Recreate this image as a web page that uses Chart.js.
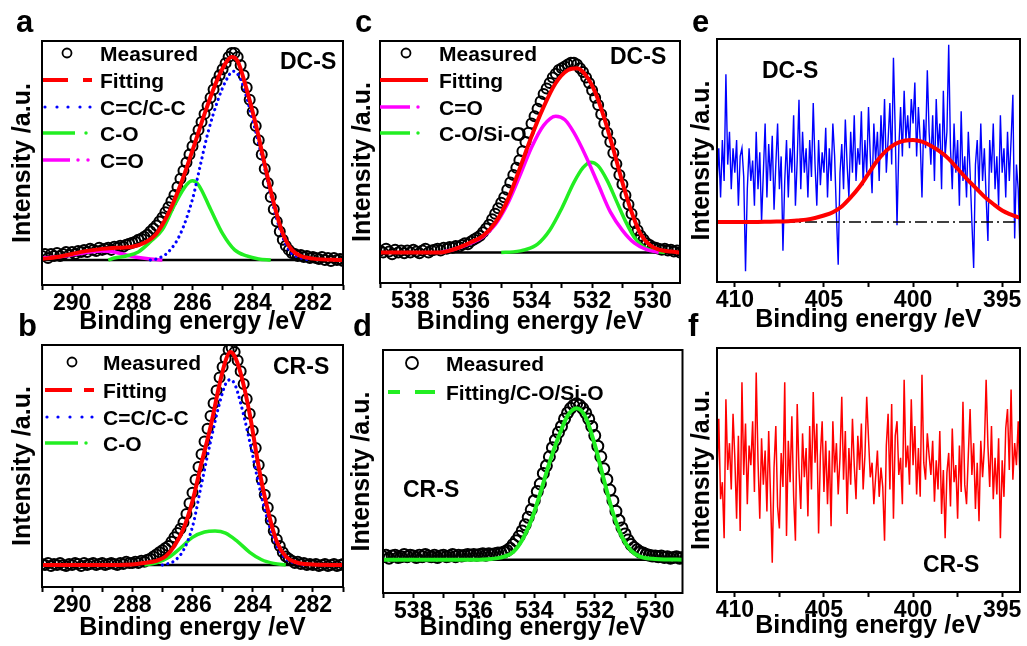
<!DOCTYPE html>
<html>
<head>
<meta charset="utf-8">
<title>XPS C 1s / O 1s / N 1s</title>
<script src="https://cdn.jsdelivr.net/npm/chart.js@4.4.1/dist/chart.umd.min.js"></script>
<style>
  html, body { margin: 0; padding: 0; background: #fff; }
  body { width: 1027px; height: 646px; position: relative; overflow: hidden; font-family: "Liberation Sans", Arial, sans-serif; }
  canvas { position: absolute; }
  .tag { position: absolute; font-weight: bold; line-height: 1; color: #000; white-space: nowrap; z-index: 2; }
  .letter { font-size: 31px; }
  .sample { font-size: 23px; }
</style>
</head>
<body>
<canvas id="chartA" width="350" height="338" style="left:0;top:0"></canvas>
<canvas id="chartB" width="350" height="310" style="left:0;top:336px"></canvas>
<canvas id="chartC" width="347" height="338" style="left:340px;top:0"></canvas>
<canvas id="chartD" width="350" height="310" style="left:340px;top:336px"></canvas>
<canvas id="chartE" width="347" height="338" style="left:680px;top:0"></canvas>
<canvas id="chartF" width="347" height="310" style="left:680px;top:336px"></canvas>

<div class="tag letter" style="left:16px;top:6px">a</div>
<div class="tag letter" style="left:18px;top:310px">b</div>
<div class="tag letter" style="left:355px;top:6px">c</div>
<div class="tag letter" style="left:353px;top:310px">d</div>
<div class="tag letter" style="left:692px;top:6px">e</div>
<div class="tag letter" style="left:688px;top:310px">f</div>
<div class="tag sample" style="left:280px;top:50px">DC-S</div>
<div class="tag sample" style="left:273px;top:355px">CR-S</div>
<div class="tag sample" style="left:610px;top:45px">DC-S</div>
<div class="tag sample" style="left:403px;top:478px">CR-S</div>
<div class="tag sample" style="left:762px;top:59px">DC-S</div>
<div class="tag sample" style="left:923px;top:553px">CR-S</div>

<script>
// ---- data (intensities normalised, baseline = 0) ----
// measured spectra: 0.1 eV step, from high to low binding energy
const measStep = 0.1;

// a: C 1s, DC-S
const aMeasStart = 291.0;
const aMeasured = [
  0.02, 0.03, 0.01, 0.03, 0.02, 0.035, 0.02, 0.03, 0.04, 0.025,
  0.04, 0.03, 0.045, 0.04, 0.05, 0.04, 0.055, 0.05, 0.045, 0.06,
  0.05, 0.055, 0.06, 0.05, 0.065, 0.06, 0.07, 0.065, 0.075, 0.08,
  0.085, 0.09, 0.1, 0.105, 0.115, 0.125, 0.14, 0.155, 0.17, 0.19,
  0.21, 0.235, 0.26, 0.29, 0.32, 0.36, 0.40, 0.44, 0.48, 0.52,
  0.56, 0.60, 0.64, 0.68, 0.72, 0.76, 0.80, 0.84, 0.88, 0.91,
  0.94, 0.97, 1.0, 1.02, 1.02, 1.0, 0.96, 0.91, 0.85, 0.79,
  0.73, 0.66, 0.59, 0.52, 0.45, 0.38, 0.31, 0.25, 0.19, 0.14,
  0.10, 0.07, 0.05, 0.035, 0.03, 0.02, 0.025, 0.015, 0.02, 0.01,
  0.015, 0.01, 0.005, 0.015, 0.0, 0.01, -0.005, 0.01, 0.0, 0.005, -0.005
];
const aFitE = [291, 290.5, 290, 289.5, 289, 288.5, 288, 287.6, 287.2, 286.8, 286.4, 286.0, 285.6, 285.2, 284.9, 284.7, 284.5, 284.2, 283.9, 283.6, 283.3, 283.0, 282.7, 282.4, 282.0, 281.0];
const aFit = [0.005, 0.015, 0.03, 0.045, 0.055, 0.06, 0.065, 0.085, 0.13, 0.23, 0.37, 0.54, 0.72, 0.88, 0.97, 1.0, 0.98, 0.84, 0.67, 0.47, 0.28, 0.13, 0.05, 0.02, 0.007, 0];
const aCCE = [287.4, 287.2, 286.8, 286.4, 286.0, 285.75, 285.5, 285.15, 284.9, 284.65, 284.4, 284.0, 283.6, 283.2, 282.8, 282.4, 282.1];
const aCC = [0, 0.005, 0.04, 0.13, 0.3, 0.46, 0.62, 0.79, 0.88, 0.93, 0.89, 0.69, 0.45, 0.2, 0.05, 0.01, 0];
const aCOE = [288.8, 288.6, 288.2, 287.8, 287.4, 287.0, 286.6, 286.2, 286.0, 285.8, 285.4, 285.0, 284.6, 284.2, 283.8, 283.4];
const aCO = [0.0, 0.01, 0.02, 0.04, 0.09, 0.15, 0.27, 0.37, 0.39, 0.37, 0.25, 0.13, 0.05, 0.02, 0.005, 0];
const aCdOE = [291, 290.2, 289.6, 289.0, 288.6, 288.2, 287.8, 287.4, 287.0];
const aCdO = [0.01, 0.02, 0.035, 0.045, 0.04, 0.025, 0.012, 0.005, 0];

// b: C 1s, CR-S
const bMeasStart = 291.0;
const bMeasured = [
  0.005, 0.0, 0.01, -0.005, 0.005, 0.0, 0.01, 0.0, -0.005, 0.005,
  0.0, 0.01, 0.005, -0.005, 0.01, 0.0, 0.005, 0.01, 0.0, 0.005,
  0.01, 0.0, 0.005, 0.01, 0.005, 0.0, 0.01, 0.005, 0.015, 0.01,
  0.01, 0.015, 0.01, 0.02, 0.015, 0.025, 0.03, 0.04, 0.05, 0.06,
  0.07, 0.08, 0.09, 0.11, 0.13, 0.15, 0.17, 0.2, 0.24, 0.29,
  0.34, 0.40, 0.46, 0.52, 0.58, 0.64, 0.70, 0.76, 0.82, 0.88,
  0.93, 0.97, 1.01, 1.02, 1.0, 0.96, 0.91, 0.85, 0.78, 0.71,
  0.63, 0.55, 0.47, 0.40, 0.33, 0.27, 0.21, 0.16, 0.12, 0.09,
  0.06, 0.04, 0.03, 0.02, 0.01, 0.015, 0.005, 0.01, 0.0, 0.005,
  0.0, 0.005, -0.005, 0.0, 0.005, -0.005, 0.0, 0.005, -0.005, 0.0, 0.005
];
const bFitE = [291, 289, 288, 287.6, 287.2, 286.9, 286.6, 286.3, 286.0, 285.7, 285.4, 285.1, 284.9, 284.75, 284.6, 284.4, 284.1, 283.8, 283.5, 283.2, 282.9, 282.6, 282.3, 281];
const bFit = [0, 0, 0.003, 0.01, 0.02, 0.04, 0.09, 0.17, 0.30, 0.48, 0.65, 0.85, 0.96, 1.0, 0.98, 0.9, 0.71, 0.46, 0.26, 0.11, 0.04, 0.015, 0.005, 0];
const bCCE = [287.0, 286.6, 286.3, 286.0, 285.7, 285.4, 285.1, 284.9, 284.75, 284.6, 284.4, 284.1, 283.8, 283.5, 283.2, 282.9, 282.6, 282.3];
const bCC = [0, 0.02, 0.07, 0.18, 0.38, 0.58, 0.76, 0.85, 0.87, 0.85, 0.76, 0.58, 0.38, 0.21, 0.09, 0.03, 0.01, 0];
const bCOE = [287.6, 287.2, 286.8, 286.4, 286.0, 285.6, 285.25, 284.9, 284.5, 284.1, 283.7, 283.3, 282.9];
const bCO = [0, 0.01, 0.035, 0.08, 0.13, 0.155, 0.16, 0.15, 0.11, 0.06, 0.025, 0.008, 0];

// c: O 1s, DC-S
const cMeasStart = 539.0;
const cMeasured = [
  0.01, 0.0, 0.02, 0.005, -0.01, 0.015, 0.0, 0.01, -0.005, 0.01,
  0.0, 0.015, 0.005, -0.005, 0.01, 0.02, 0.0, 0.01, 0.015, 0.02,
  0.01, 0.025, 0.02, 0.03, 0.025, 0.035, 0.03, 0.04, 0.05, 0.045,
  0.06, 0.07, 0.08, 0.09, 0.11, 0.13, 0.15, 0.18, 0.21, 0.24,
  0.27, 0.30, 0.34, 0.38, 0.42, 0.46, 0.50, 0.55, 0.60, 0.65,
  0.70, 0.74, 0.78, 0.82, 0.86, 0.89, 0.92, 0.95, 0.97, 0.99,
  1.0, 1.01, 1.02, 1.03, 1.03, 1.02, 1.0, 0.98, 0.95, 0.92,
  0.88, 0.84, 0.80, 0.75, 0.70, 0.65, 0.60, 0.54, 0.48, 0.42,
  0.37, 0.31, 0.26, 0.21, 0.16, 0.12, 0.09, 0.07, 0.05, 0.04,
  0.03, 0.025, 0.02, 0.015, 0.02, 0.01, 0.015, 0.005, 0.01, 0.0, 0.005
];
const cFitE = [539, 537, 536.5, 536.0, 535.6, 535.2, 534.8, 534.4, 534.0, 533.6, 533.2, 532.8, 532.5, 532.2, 531.9, 531.6, 531.3, 531.0, 530.7, 530.4, 530.1, 529.8, 529.4, 529.1];
const cFit = [0, 0, 0.02, 0.055, 0.09, 0.16, 0.28, 0.45, 0.63, 0.79, 0.92, 0.99, 1.0, 0.96, 0.87, 0.73, 0.56, 0.38, 0.22, 0.1, 0.04, 0.015, 0.005, 0];
const cCdOE = [537, 536.5, 536.0, 535.6, 535.2, 534.8, 534.4, 534.0, 533.6, 533.2, 532.9, 532.6, 532.2, 531.8, 531.4, 531.0, 530.6, 530.2, 529.8];
const cCdO = [0, 0.02, 0.05, 0.085, 0.15, 0.26, 0.41, 0.57, 0.69, 0.74, 0.72, 0.65, 0.52, 0.37, 0.22, 0.12, 0.05, 0.015, 0];
const cCOE = [535.0, 534.6, 534.2, 533.8, 533.4, 533.0, 532.6, 532.3, 532.05, 531.8, 531.5, 531.2, 530.9, 530.6, 530.3, 530.0, 529.6];
const cCO = [0, 0.003, 0.015, 0.045, 0.12, 0.24, 0.38, 0.46, 0.49, 0.47, 0.39, 0.28, 0.17, 0.08, 0.03, 0.01, 0];

// d: O 1s, CR-S
const dMeasStart = 539.0;
const dMeasured = [
  0.02, 0.03, 0.01, 0.025, 0.03, 0.015, 0.02, 0.035, 0.02, 0.03,
  0.025, 0.015, 0.03, 0.02, 0.035, 0.025, 0.02, 0.03, 0.015, 0.025,
  0.03, 0.02, 0.025, 0.035, 0.02, 0.03, 0.025, 0.03, 0.035, 0.03,
  0.035, 0.03, 0.035, 0.04, 0.03, 0.04, 0.035, 0.04, 0.045, 0.045,
  0.05, 0.06, 0.075, 0.10, 0.125, 0.155, 0.19, 0.23, 0.28, 0.33,
  0.39, 0.45, 0.50, 0.57, 0.62, 0.68, 0.74, 0.79, 0.84, 0.88,
  0.93, 0.97, 1.0, 1.02, 1.03, 1.02, 1.0, 0.97, 0.93, 0.88,
  0.82, 0.75, 0.68, 0.60, 0.53, 0.46, 0.39, 0.32, 0.26, 0.21,
  0.17, 0.13, 0.10, 0.08, 0.065, 0.05, 0.045, 0.035, 0.03, 0.025,
  0.025, 0.02, 0.025, 0.015, 0.02, 0.01, 0.015, 0.02, 0.01, 0.015, 0.005
];
const dFitE = [539, 536, 535.4, 535.0, 534.7, 534.4, 534.1, 533.8, 533.5, 533.2, 532.9, 532.6, 532.3, 532.0, 531.7, 531.4, 531.1, 530.8, 530.5, 530.0, 529];
const dFit = [0, 0, 0.005, 0.02, 0.05, 0.13, 0.26, 0.44, 0.64, 0.81, 0.95, 1.0, 0.94, 0.76, 0.53, 0.31, 0.15, 0.06, 0.02, 0.005, 0];

// e: N 1s, DC-S
const eMeasStart = 411.0;
const eMeasured = [
  0.45, 0.9, 0.3, 1.0, 0.5, 1.8, 0.7, 1.1, 0.4, 0.9,
  0.6, 1.0, 0.2, 0.8, 0.9, 0.55, -0.6, 0.4, 0.9, 0.5,
  0.75, 0.2, 1.1, 0.4, 0.85, 0.0, 0.6, 1.2, 0.3, 0.95,
  0.5, 1.05, 0.15, 0.7, 1.2, 0.4, 0.8, -0.35, 0.5, 1.0,
  0.3, 0.9, 0.6, 1.3, 0.2, 0.75, 1.49, 0.4, 1.1, 0.6,
  0.9, 0.3, 1.0, 0.55, 1.45, 0.7, 0.2, 1.0, 0.45, 0.85,
  0.6, 1.15, 0.3, 0.9, 0.5, 1.2, 0.8, 0.1, -0.52, 0.6,
  0.95, 0.4, 1.25, 0.7, 0.3, 1.1, 0.6, 1.3, 0.5, 0.9,
  0.7, 1.35, 0.45, 1.0, 0.6, 1.4, 0.8, 0.35, 1.2, 0.75,
  1.1, 0.5, 1.3, 0.8, 1.5, 0.6, 1.0, 1.45, 0.7, 2.0,
  1.1, -0.04, 0.9, 1.4, 0.8, 1.6, 1.0, 1.3, 0.9, 1.5,
  1.2, 1.7, 0.8, 1.4, 1.0, 0.3, 1.25, 0.9, 1.85, 1.1,
  0.7, 1.3, 0.5, 1.5, 0.9, 1.2, 0.4, 1.6, 0.8, 1.1,
  2.16, 0.9, 0.4, 1.2, 0.6, 1.0, 0.2, 1.35, 0.5, 0.8,
  0.3, 1.1, 0.6, 0.0, -0.56, 0.7, 1.0, 0.4, 1.2, 0.5,
  0.9, 0.3, -0.23, 1.0, 0.6, 1.2, 0.4, 0.8, 0.2, 1.3,
  0.6, 0.9, 0.3, 1.1, 0.5, 1.0, 1.55, -0.2, 0.7, 0.4,
  -0.35
];
const eFitE = [411, 409, 408, 407, 406.5, 406, 405.5, 405, 404.5, 404, 403.5, 403, 402.5, 402, 401.5, 401, 400.5, 400, 399.5, 399, 398.5, 398, 397.5, 397, 396.5, 396, 395.5, 395, 394.5, 394];
const eFit = [0, 0, 0.005, 0.01, 0.02, 0.03, 0.05, 0.08, 0.12, 0.19, 0.3, 0.43, 0.59, 0.75, 0.87, 0.95, 0.99, 1.0, 0.98, 0.93, 0.86, 0.77, 0.65, 0.53, 0.42, 0.31, 0.22, 0.14, 0.09, 0.05];

// f: N 1s, CR-S
const fMeasStart = 411.0;
const fMeasured = [
  4.6, 7.1, 3.8, 4.5, 2.2, 7.9, 5.0, 6.1, 4.2, 7.3,
  5.5, 3.0, 6.4, 2.5, 8.6, 4.8, 6.9, 3.6, 6.0, 5.2,
  7.0, 4.1, 9.0, 5.4, 3.0, 6.3, 4.4, 5.8, 3.3, 6.6,
  4.0, 1.2, 5.1, 6.8, 3.5, 2.6, 5.7, 4.3, 8.6, 2.3,
  6.2, 4.5, 7.2, 3.9, 2.1, 7.7, 5.0, 3.4, 6.5, 4.7,
  5.9, 3.1, 6.8, 4.2, 8.2, 5.3, 6.9, 2.4, 5.6, 7.0,
  4.1, 6.2, 3.6, 5.8, 2.7, 7.0, 4.9, 6.1, 4.0, 5.5,
  8.0, 4.6, 6.6, 3.2, 5.9, 4.4, 7.1, 5.2, 3.8, 6.4,
  5.0, 6.9, 4.2, 5.6, 8.0, 6.3, 4.7, 5.3, 3.6, 4.7,
  5.8, 3.9, 5.1, 4.3, 2.1, 6.0, 7.3, 4.2, 7.7, 3.0,
  6.4, 7.0, 4.8, 5.5, 3.6, 8.7, 5.1, 6.0, 4.4, 7.9,
  5.2, 6.8, 4.0, 5.9, 3.9, 8.9, 5.3, 4.6, 6.5, 5.6,
  4.8, 6.2, 3.7, 5.4, 4.2, 6.6, 3.2, 5.0, 2.2, 4.9,
  5.7, 3.5, 6.7, 4.5, 5.2, 3.0, 6.0, 4.1, 7.8, 4.4,
  3.6, 5.6, 7.5, 4.8, 6.1, 3.4, 5.3, 2.9, 6.2, 4.7,
  5.9, 8.7, 6.0, 4.3, 6.8, 3.8, 5.5, 4.0, 6.3, 2.2,
  5.4, 3.9, 6.7, 7.5, 5.0, 8.3, 4.6, 6.1, 5.2, 7.0,
  4.6
];

const c1sRange = [291, 281];
const o1sRange = [539, 529.1];
const n1sRange = [411, 394];
const zeroLine = [0, 0];

// ---- helpers ----
function stepSeries(start, values) {
  return values.map((v, i) => ({ x: Math.round((start - i * measStep) * 10) / 10, y: v }));
}
function pairs(xs, ys) {
  return xs.map((x, i) => ({ x: x, y: ys[i] }));
}
function measured(label, start, values, r) {
  return { label: label, data: stepSeries(start, values), showLine: false, pointRadius: r,
    pointBorderWidth: 2, pointBorderColor: '#000', pointBackgroundColor: 'rgba(0,0,0,0)', borderColor: '#000', order: 3 };
}
function curve(label, xs, ys, color, width, order, extra) {
  return Object.assign({ label: label, data: pairs(xs, ys), borderColor: color, borderWidth: width, pointRadius: 0,
    tension: 0.4, cubicInterpolationMode: 'monotone', fill: false, order: order }, extra || {});
}
function baseline(range) {
  return { label: '', data: pairs(range, zeroLine), borderColor: '#000', borderWidth: 2.6, pointRadius: 0, order: 2 };
}

const RED = '#ff0000', BLUE = '#0000ff', GREEN = '#22ee22', MAGENTA = '#ff00ff';
const dotted = { borderDash: [0.01, 5.5], borderCapStyle: 'round' };

Chart.defaults.font.family = '"Liberation Sans", Arial, sans-serif';
Chart.defaults.color = '#000';

// frame + in-plot legend
const xpsDecor = {
  id: 'xpsDecor',
  afterDatasetsDraw(chart, args, opts) {
    const { ctx, chartArea: a } = chart;
    ctx.save();
    ctx.lineWidth = 2;
    ctx.strokeStyle = '#000';
    ctx.strokeRect(a.left, a.top, a.right - a.left, a.bottom - a.top);
    (opts.rows || []).forEach(row => {
      const ds = chart.data.datasets[row.ds];
      const y = row.y - opts.oy;
      row.sym.forEach(s => {
        if (s.circle !== undefined) {
          ctx.beginPath();
          ctx.lineWidth = 1.8;
          ctx.strokeStyle = '#000';
          ctx.arc(s.circle - opts.ox, y, s.r, 0, Math.PI * 2);
          ctx.stroke();
        } else if (s.seg) {
          ctx.beginPath();
          ctx.lineCap = 'butt';
          ctx.lineWidth = ds.borderWidth;
          ctx.strokeStyle = ds.borderColor;
          ctx.moveTo(s.seg[0] - opts.ox, y);
          ctx.lineTo(s.seg[1] - opts.ox, y);
          ctx.stroke();
        } else if (s.dot !== undefined) {
          ctx.beginPath();
          ctx.fillStyle = ds.borderColor;
          ctx.arc(s.dot - opts.ox, y, ds.borderWidth / 2, 0, Math.PI * 2);
          ctx.fill();
        }
      });
      ctx.fillStyle = '#000';
      ctx.font = 'bold 21px "Liberation Sans", Arial, sans-serif';
      ctx.textBaseline = 'alphabetic';
      ctx.textAlign = 'left';
      ctx.fillText(ds.label, opts.textX - opts.ox, y + 7.5);
    });
    ctx.restore();
  }
};

function xpsChart(id, p, datasets, legend) {
  const canvas = document.getElementById(id);
  const cw = canvas.width, ch = canvas.height;
  return new Chart(canvas, {
    type: 'line',
    data: { datasets: datasets },
    options: {
      responsive: false,
      animation: false,
      events: [],
      layout: { padding: { top: p.box[1] - p.top, right: p.left + cw - p.box[2], left: 0, bottom: 0 } },
      plugins: {
        legend: { display: false },
        tooltip: { enabled: false },
        xpsDecor: Object.assign({ ox: p.left, oy: p.top, rows: [] }, legend)
      },
      scales: {
        x: {
          type: 'linear', reverse: true, min: p.range[1], max: p.range[0],
          afterFit: s => { s.height = p.top + ch - p.box[3]; },
          border: { display: false },
          grid: { display: true, drawOnChartArea: false, drawTicks: true, tickLength: 5, tickWidth: 2, tickColor: '#000' },
          ticks: {
            stepSize: p.step, includeBounds: false, autoSkip: false, maxRotation: 0, minRotation: 0, padding: 0,
            color: '#000', font: { size: 23, weight: 'bold' },
            callback: v => (Math.abs(v % p.labelEvery) < 1e-6 ? String(v) : '')
          },
          title: { display: true, text: 'Binding energy /eV', color: '#000', font: { size: 25, weight: 'bold' },
                   padding: { top: 0, bottom: p.xTitlePad } }
        },
        y: {
          min: p.y[0], max: p.y[1],
          afterFit: s => { s.width = p.box[0] - p.left; },
          border: { display: false },
          grid: { display: false },
          ticks: { display: false },
          title: { display: true, text: 'Intensity /a.u.', color: '#000', font: { size: 25, weight: 'bold' },
                   padding: { top: p.yTitlePad, bottom: 0 } }
        }
      }
    },
    plugins: [xpsDecor]
  });
}

// a
xpsChart('chartA',
  { left: 0, top: 0, box: [42, 41, 345, 285], range: c1sRange, step: 1, labelEvery: 2, y: [-0.123, 1.079], xTitlePad: 1, yTitlePad: 8 },
  [
    measured('Measured', aMeasStart, aMeasured, 5),
    curve('Fitting', aFitE, aFit, RED, 4, 0),
    curve('C=C/C-C', aCCE, aCC, BLUE, 3.2, 1, dotted),
    curve('C-O', aCOE, aCO, GREEN, 3.5, 1),
    curve('C=O', aCdOE, aCdO, MAGENTA, 3.5, 1),
    baseline(c1sRange)
  ],
  { textX: 100, rows: [
    { ds: 0, y: 53, sym: [{ circle: 67, r: 4.5 }] },
    { ds: 1, y: 80, sym: [{ seg: [43, 68] }, { seg: [83, 92] }] },
    { ds: 2, y: 107, sym: [{ dot: 45 }, { dot: 57 }, { dot: 68 }, { dot: 80 }, { dot: 90 }] },
    { ds: 3, y: 133, sym: [{ seg: [43, 75] }, { dot: 86 }] },
    { ds: 4, y: 160, sym: [{ seg: [43, 70] }, { dot: 78 }, { dot: 88 }] }
  ] });

// b
xpsChart('chartB',
  { left: 0, top: 336, box: [42, 345, 345, 587], range: c1sRange, step: 1, labelEvery: 2, y: [-0.103, 1.033], xTitlePad: 3, yTitlePad: 8 },
  [
    measured('Measured', bMeasStart, bMeasured, 5),
    curve('Fitting', bFitE, bFit, RED, 4, 0),
    curve('C=C/C-C', bCCE, bCC, BLUE, 3.2, 1, dotted),
    curve('C-O', bCOE, bCO, GREEN, 3.5, 1),
    baseline(c1sRange)
  ],
  { textX: 103, rows: [
    { ds: 0, y: 362, sym: [{ circle: 72, r: 4.5 }] },
    { ds: 1, y: 390, sym: [{ seg: [45, 72] }, { seg: [84, 94] }] },
    { ds: 2, y: 417, sym: [{ dot: 47 }, { dot: 58 }, { dot: 70 }, { dot: 82 }, { dot: 92 }] },
    { ds: 3, y: 443, sym: [{ seg: [45, 78] }, { dot: 86 }] }
  ] });

// c
xpsChart('chartC',
  { left: 340, top: 0, box: [380, 41, 682, 283], range: o1sRange, step: 1, labelEvery: 2, y: [-0.166, 1.148], xTitlePad: 1, yTitlePad: 8 },
  [
    measured('Measured', cMeasStart, cMeasured, 5),
    curve('Fitting', cFitE, cFit, RED, 4, 0),
    curve('C=O', cCdOE, cCdO, MAGENTA, 3.5, 1),
    curve('C-O/Si-O', cCOE, cCO, GREEN, 3.5, 1),
    baseline(o1sRange)
  ],
  { textX: 439, rows: [
    { ds: 0, y: 53, sym: [{ circle: 406, r: 4.5 }] },
    { ds: 1, y: 80, sym: [{ seg: [380, 428] }] },
    { ds: 2, y: 107, sym: [{ seg: [380, 410] }, { dot: 418 }] },
    { ds: 3, y: 133, sym: [{ seg: [380, 410] }, { dot: 418 }] }
  ] });

// d
xpsChart('chartD',
  { left: 340, top: 336, box: [383, 350, 685, 593], range: o1sRange, step: 1, labelEvery: 2, y: [-0.22, 1.385], xTitlePad: 3, yTitlePad: 7 },
  [
    measured('Measured', dMeasStart, dMeasured, 5.5),
    curve('Fitting/C-O/Si-O', dFitE, dFit, GREEN, 4, 0),
    baseline(o1sRange)
  ],
  { textX: 446, rows: [
    { ds: 0, y: 363, sym: [{ circle: 412, r: 6 }] },
    { ds: 1, y: 392, sym: [{ seg: [388, 400] }, { seg: [415, 435] }] }
  ] });

// e
xpsChart('chartE',
  { left: 680, top: 0, box: [717, 39, 1020, 282], range: n1sRange, step: 2.5, labelEvery: 5, y: [-0.73, 2.23], xTitlePad: 3, yTitlePad: 7 },
  [
    { label: 'DC-S', data: stepSeries(eMeasStart, eMeasured), borderColor: BLUE, borderWidth: 1.4, pointRadius: 0, tension: 0, order: 2 },
    curve('Fitting', eFitE, eFit, RED, 4, 0),
    { label: '', data: pairs(n1sRange, zeroLine), borderColor: '#000', borderWidth: 1.6, borderDash: [12, 4, 2, 4], pointRadius: 0, order: 1 }
  ],
  {});

// f
xpsChart('chartF',
  { left: 680, top: 336, box: [717, 348, 1020, 592], range: n1sRange, step: 2.5, labelEvery: 5, y: [0, 10], xTitlePad: 5, yTitlePad: 7 },
  [
    { label: 'CR-S', data: stepSeries(fMeasStart, fMeasured), borderColor: RED, borderWidth: 1.5, pointRadius: 0, tension: 0, order: 0 }
  ],
  {});
</script>
</body>
</html>
